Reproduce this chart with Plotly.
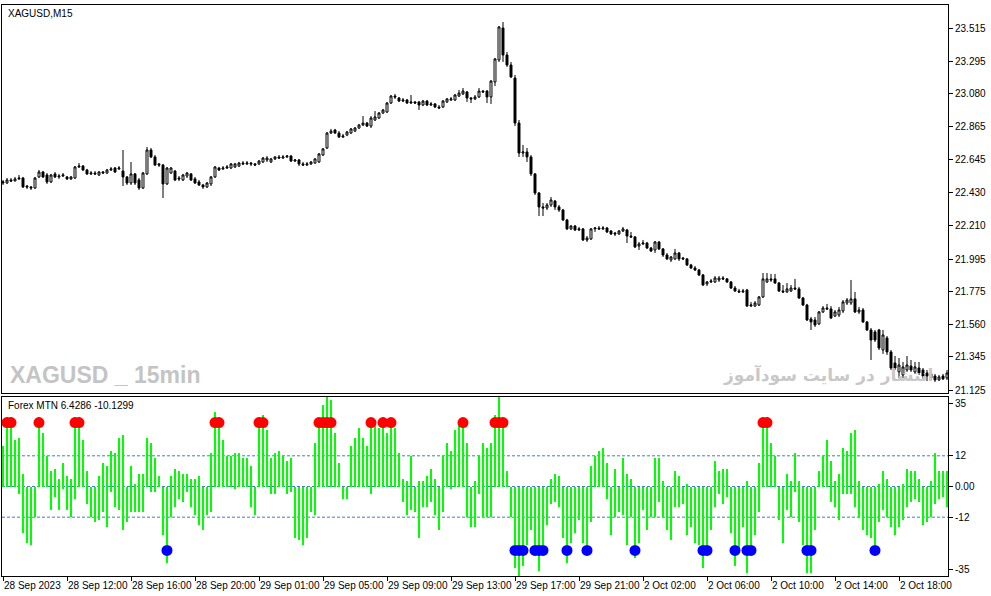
import plotly.graph_objects as go

# XAGUSD M15 candles (one per 15 minutes)
opens = [
    22.492, 22.492, 22.512, 22.505, 22.519, 22.525, 22.472, 22.466, 22.459, 22.532,
    22.565, 22.545, 22.499, 22.552, 22.532, 22.538, 22.532, 22.519, 22.525, 22.598,
    22.604, 22.578, 22.552, 22.558, 22.545, 22.565, 22.558, 22.578, 22.591, 22.585,
    22.571, 22.532, 22.492, 22.552, 22.512, 22.459, 22.552, 22.710, 22.664, 22.618,
    22.611, 22.486, 22.558, 22.571, 22.525, 22.512, 22.538, 22.552, 22.519, 22.499,
    22.479, 22.466, 22.486, 22.532, 22.591, 22.585, 22.591, 22.591, 22.598, 22.604,
    22.624, 22.618, 22.624, 22.618, 22.618, 22.631, 22.644, 22.631, 22.651, 22.664,
    22.657, 22.664, 22.670, 22.637, 22.644, 22.618, 22.611, 22.618, 22.624, 22.631,
    22.677, 22.723, 22.822, 22.842, 22.822, 22.796, 22.809, 22.822, 22.835, 22.855,
    22.875, 22.888, 22.868, 22.908, 22.921, 22.954, 22.961, 23.020, 23.066, 23.053,
    23.033, 23.040, 23.020, 23.027, 23.027, 23.007, 23.033, 23.007, 23.014, 22.994,
    22.994, 23.027, 23.040, 23.040, 23.066, 23.080, 23.093, 23.053, 23.047, 23.060,
    23.099, 23.099, 23.060, 23.159, 23.304, 23.515, 23.337, 23.271, 23.185, 22.888,
    22.690, 22.697, 22.664, 22.552, 22.426, 22.334, 22.327, 22.347, 22.373, 22.334,
    22.314, 22.248, 22.189, 22.208, 22.182, 22.189, 22.116, 22.123, 22.189, 22.195,
    22.189, 22.195, 22.175, 22.162, 22.156, 22.175, 22.182, 22.142, 22.136, 22.076,
    22.090, 22.096, 22.063, 22.050, 22.103, 22.057, 22.017, 21.984, 21.991, 22.030,
    21.997, 21.991, 21.951, 21.931, 21.918, 21.885, 21.826, 21.839, 21.839, 21.852,
    21.865, 21.859, 21.839, 21.799, 21.779, 21.773, 21.786, 21.680, 21.680, 21.687,
    21.740, 21.839, 21.859, 21.859, 21.832, 21.779, 21.773, 21.779, 21.799, 21.793,
    21.733, 21.687, 21.595, 21.588, 21.562, 21.641, 21.667, 21.661, 21.614, 21.621,
    21.647, 21.700, 21.700, 21.727, 21.641, 21.654, 21.575, 21.522, 21.509, 21.522,
    21.390, 21.469, 21.377, 21.304, 21.245, 21.225, 21.258, 21.284, 21.245, 21.271,
    21.258, 21.238, 21.232, 21.218, 21.192, 21.218, 21.205,
]
highs = [
    22.512, 22.525, 22.525, 22.532, 22.545, 22.532, 22.479, 22.472, 22.532, 22.578,
    22.571, 22.558, 22.552, 22.565, 22.552, 22.558, 22.538, 22.538, 22.604, 22.624,
    22.611, 22.585, 22.571, 22.571, 22.571, 22.571, 22.585, 22.598, 22.598, 22.604,
    22.710, 22.538, 22.631, 22.558, 22.525, 22.565, 22.730, 22.723, 22.677, 22.624,
    22.618, 22.598, 22.598, 22.578, 22.538, 22.552, 22.565, 22.558, 22.532, 22.512,
    22.486, 22.499, 22.538, 22.604, 22.598, 22.604, 22.611, 22.624, 22.624, 22.631,
    22.637, 22.637, 22.631, 22.624, 22.644, 22.664, 22.670, 22.657, 22.670, 22.677,
    22.677, 22.677, 22.677, 22.651, 22.651, 22.631, 22.631, 22.637, 22.657, 22.690,
    22.723, 22.829, 22.849, 22.849, 22.835, 22.816, 22.835, 22.855, 22.862, 22.882,
    22.934, 22.895, 22.934, 22.967, 22.961, 22.981, 23.027, 23.073, 23.080, 23.060,
    23.053, 23.047, 23.073, 23.033, 23.033, 23.040, 23.040, 23.027, 23.020, 23.007,
    23.040, 23.053, 23.060, 23.080, 23.106, 23.119, 23.099, 23.060, 23.073, 23.119,
    23.106, 23.106, 23.172, 23.317, 23.528, 23.555, 23.357, 23.291, 23.205, 22.908,
    22.743, 22.723, 22.677, 22.558, 22.433, 22.360, 22.360, 22.400, 22.380, 22.347,
    22.321, 22.255, 22.215, 22.215, 22.202, 22.195, 22.142, 22.195, 22.202, 22.208,
    22.208, 22.202, 22.182, 22.169, 22.182, 22.202, 22.189, 22.169, 22.142, 22.103,
    22.116, 22.103, 22.070, 22.109, 22.109, 22.063, 22.030, 22.010, 22.057, 22.037,
    22.004, 21.997, 21.958, 21.944, 21.925, 21.892, 21.845, 21.859, 21.878, 21.878,
    21.878, 21.865, 21.845, 21.812, 21.793, 21.793, 21.793, 21.707, 21.713, 21.746,
    21.898, 21.898, 21.892, 21.892, 21.839, 21.819, 21.832, 21.819, 21.859, 21.806,
    21.740, 21.694, 21.608, 21.608, 21.647, 21.680, 21.694, 21.680, 21.654, 21.674,
    21.720, 21.733, 21.852, 21.773, 21.674, 21.667, 21.581, 21.535, 21.522, 21.529,
    21.522, 21.482, 21.390, 21.350, 21.337, 21.311, 21.350, 21.324, 21.311, 21.311,
    21.271, 21.258, 21.245, 21.232, 21.225, 21.232, 21.258,
]
lows = [
    22.479, 22.486, 22.499, 22.505, 22.512, 22.459, 22.453, 22.446, 22.453, 22.525,
    22.525, 22.486, 22.492, 22.525, 22.519, 22.532, 22.512, 22.512, 22.519, 22.591,
    22.571, 22.545, 22.545, 22.545, 22.538, 22.552, 22.552, 22.571, 22.558, 22.578,
    22.472, 22.479, 22.479, 22.479, 22.446, 22.453, 22.545, 22.657, 22.604, 22.598,
    22.393, 22.479, 22.552, 22.505, 22.505, 22.505, 22.525, 22.505, 22.486, 22.472,
    22.453, 22.459, 22.472, 22.525, 22.571, 22.578, 22.585, 22.585, 22.591, 22.598,
    22.611, 22.611, 22.604, 22.604, 22.611, 22.624, 22.631, 22.624, 22.644, 22.651,
    22.651, 22.657, 22.631, 22.631, 22.604, 22.604, 22.604, 22.611, 22.618, 22.624,
    22.670, 22.717, 22.816, 22.816, 22.789, 22.789, 22.802, 22.816, 22.829, 22.849,
    22.868, 22.862, 22.855, 22.901, 22.915, 22.948, 22.954, 23.014, 23.047, 23.027,
    23.027, 23.014, 23.014, 23.014, 22.974, 23.000, 23.000, 23.000, 22.987, 22.981,
    22.987, 23.020, 23.033, 23.033, 23.060, 23.073, 23.027, 23.020, 23.040, 23.053,
    23.086, 23.020, 23.014, 23.132, 23.291, 23.291, 23.258, 23.185, 22.868, 22.664,
    22.664, 22.631, 22.538, 22.413, 22.274, 22.274, 22.314, 22.334, 22.314, 22.301,
    22.241, 22.182, 22.182, 22.175, 22.175, 22.109, 22.103, 22.116, 22.169, 22.182,
    22.182, 22.162, 22.149, 22.142, 22.149, 22.169, 22.096, 22.129, 22.063, 22.050,
    22.083, 22.057, 22.037, 22.030, 22.050, 22.004, 21.984, 21.971, 21.984, 21.977,
    21.984, 21.944, 21.925, 21.911, 21.878, 21.812, 21.812, 21.832, 21.832, 21.839,
    21.852, 21.832, 21.793, 21.773, 21.766, 21.766, 21.674, 21.674, 21.674, 21.680,
    21.733, 21.832, 21.839, 21.826, 21.773, 21.766, 21.766, 21.773, 21.786, 21.727,
    21.680, 21.581, 21.522, 21.542, 21.555, 21.634, 21.654, 21.595, 21.608, 21.608,
    21.634, 21.687, 21.687, 21.634, 21.628, 21.568, 21.515, 21.324, 21.443, 21.390,
    21.364, 21.357, 21.258, 21.258, 21.205, 21.205, 21.245, 21.245, 21.232, 21.225,
    21.192, 21.185, 21.192, 21.179, 21.185, 21.192, 21.192,
]
closes = [
    22.499, 22.512, 22.505, 22.519, 22.525, 22.466, 22.466, 22.459, 22.525, 22.565,
    22.532, 22.499, 22.545, 22.532, 22.538, 22.545, 22.519, 22.532, 22.598, 22.604,
    22.578, 22.552, 22.558, 22.552, 22.565, 22.558, 22.578, 22.585, 22.565, 22.591,
    22.532, 22.492, 22.552, 22.492, 22.459, 22.558, 22.710, 22.664, 22.611, 22.611,
    22.486, 22.591, 22.591, 22.512, 22.519, 22.545, 22.558, 22.512, 22.492, 22.479,
    22.466, 22.492, 22.532, 22.598, 22.578, 22.591, 22.598, 22.618, 22.618, 22.624,
    22.618, 22.624, 22.618, 22.611, 22.637, 22.657, 22.657, 22.651, 22.664, 22.657,
    22.664, 22.670, 22.637, 22.644, 22.618, 22.611, 22.618, 22.631, 22.651, 22.684,
    22.717, 22.822, 22.835, 22.822, 22.796, 22.802, 22.829, 22.849, 22.855, 22.875,
    22.888, 22.868, 22.921, 22.928, 22.954, 22.974, 23.020, 23.066, 23.060, 23.033,
    23.040, 23.020, 23.027, 23.020, 23.007, 23.033, 23.007, 23.014, 22.994, 22.987,
    23.033, 23.047, 23.047, 23.073, 23.086, 23.099, 23.053, 23.047, 23.060, 23.099,
    23.093, 23.060, 23.165, 23.311, 23.522, 23.337, 23.271, 23.192, 22.888, 22.690,
    22.697, 22.664, 22.552, 22.426, 22.334, 22.327, 22.347, 22.380, 22.334, 22.314,
    22.248, 22.189, 22.208, 22.182, 22.189, 22.116, 22.129, 22.189, 22.195, 22.189,
    22.195, 22.169, 22.156, 22.156, 22.175, 22.189, 22.142, 22.136, 22.070, 22.090,
    22.096, 22.063, 22.043, 22.103, 22.057, 22.017, 21.991, 22.004, 22.030, 21.991,
    21.991, 21.951, 21.931, 21.918, 21.885, 21.819, 21.839, 21.845, 21.865, 21.865,
    21.859, 21.839, 21.799, 21.779, 21.773, 21.779, 21.680, 21.687, 21.700, 21.740,
    21.859, 21.859, 21.852, 21.832, 21.779, 21.773, 21.793, 21.799, 21.793, 21.733,
    21.687, 21.588, 21.575, 21.555, 21.641, 21.667, 21.661, 21.601, 21.641, 21.654,
    21.707, 21.720, 21.727, 21.641, 21.654, 21.575, 21.522, 21.456, 21.456, 21.403,
    21.489, 21.377, 21.271, 21.271, 21.291, 21.278, 21.291, 21.258, 21.278, 21.238,
    21.218, 21.218, 21.205, 21.192, 21.212, 21.199, 21.238,
]

# Forex MTN histogram: each bar is drawn between a low and a high buffer
mtn_low = [
    0, 0, 0, 0, -3, -18, -22, -23, -12, 0,
    0, 0, -9, -4, -9, -1, -9, -12, -5, 0,
    0, -7, -12, -14, -13, -10, -16, -2, -8, -9,
    -17, -14, -10, -10, -10, -10, 0, -2, -2, 0,
    -19, -30, -12, -8, -5, -6, -2, -8, -11, -15,
    -17, -11, -10, 0, 0, 0, 0, 0, -1, 0,
    0, 0, -8, -11, 0, 0, 0, -3, -3, 0,
    0, -3, -2, -20, -21, -23, -20, -10, -11, 0,
    0, 0, 0, 0, 0, -5, -5, 0, 0, 0,
    0, 0, -3, 0, 0, 0, 0, 0, 0, 0,
    -6, -11, -9, -10, -20, -8, -8, -6, -11, -17,
    -10, 0, -1, 0, 0, 0, -12, -16, -16, -3,
    -12, -12, -12, 0, 0, 0, 0, -12, -32, -35,
    -31, -23, -17, -25.5, -33, -26, -15, -7, -6, -8,
    -20, -30, -22, -18, -13, -22, -26, -14, 0, 0,
    0, -5, -19, -12, -10, -11, -23, -12, -28, -22,
    -9, -17, -12, -12, -6, -12, -17, -21, -8, -8,
    -7, -19, -16, -22, -23, -32, -26, -17, -8, -3,
    -7, -4, -18, -31, -24, -16, -34, -25.5, -19, -10,
    0, 0, 0, 0, -13, -22, -9, -12, -2, -14,
    -23, -34, -34, -17, 0, 0, 0, -6, -8, -13,
    -3, -3, -3, -8, -12, -17, -19, -20, -26, -14,
    -9, -12, -16, -19, -16, -13, -8, -6, -5, -6,
    -15, -14, -12, -7, -5, -4, -8,
]
mtn_high = [
    16, 27, 27, 18, 19, 5, 0, 0, 0, 27,
    21, 12, 6, 7, 3, 9, 4, 3, 27, 27,
    18, 6, 0, 0, 4, 9, 8, 14, 13, 19,
    20, 0, 8, 1, 5, 5, 19, 17, 11, 4,
    0, 0, 4, 7, 6, 5, 5, 3, 3, 4,
    0, 0, 13, 29, 27, 18, 12, 12, 13, 13,
    11, 11, 8, 0, 27, 28, 22, 11, 13, 14,
    12, 10, 11, 0, 0, 0, 0, 0, 17, 26,
    32, 35, 34, 21, 9, 0, 0, 16, 19, 23,
    19, 16, 26, 24, 23, 27, 21, 26, 23, 13,
    3, 2, 12, 0, 2, 2, 4, 7, 3, 0,
    12, 17, 14, 22, 24, 26, 17, 0, 2, 12,
    17, 15, 17, 28, 35, 26, 6, 0, 0, 0,
    0, 0, 0, 0, 0, 0, 0, 3, 5, 4,
    0, 0, 0, 0, 0, 0, 0, 8, 12, 14,
    15, 9, 0, 7, 0, 11, 5, 3, 0, 0,
    0, 0, 0, 11, 11, 2, 0, 0, 6, 4,
    0, 1, 0, 0, 0, 0, 0, 0, 10, 6,
    7, 7, 0, 0, 0, 0, 2, 0, 0, 9,
    27, 27, 17, 12, 0, 0, 5, 2, 13, 2,
    0, 0, 0, 0, 6, 12, 18, 10, 2, 5,
    15, 14, 21, 22, 2, 0, 0, 0, 0, 1,
    6, 3, 0, 0, 0, 1, 7, 6, 6, 3,
    0, 0, 2, 13, 6, 6, 6,
]
signal_level = 25          # where the red / blue signal dots sit
mtn_levels = [12, 0, -12]  # dotted levels of the indicator window

# axis ticks
price_ticks = [23.515, 23.295, 23.080, 22.865, 22.645, 22.430,
               22.210, 21.990, 21.775, 21.560, 21.345, 21.125]
price_labels = ['23.515', '23.295', '23.080', '22.865', '22.645', '22.430',
                '22.210', '21.995', '21.775', '21.560', '21.345', '21.125']
mtn_ticks = [32.3, 12, 0, -12, -32.3]
mtn_labels = ['35', '12', '0.00', '-12', '-35']
time_ticks = [0, 16, 32, 48, 64, 80, 96, 112, 128, 144, 160, 176, 192, 208, 224]
time_labels = ['28 Sep 2023', '28 Sep 12:00', '28 Sep 16:00', '28 Sep 20:00',
               '29 Sep 01:00', '29 Sep 05:00', '29 Sep 09:00', '29 Sep 13:00',
               '29 Sep 17:00', '29 Sep 21:00', '2 Oct 02:00', '2 Oct 06:00',
               '2 Oct 10:00', '2 Oct 14:00', '2 Oct 18:00']

bars = list(range(len(closes)))
mtn_size = [h - l for l, h in zip(mtn_low, mtn_high)]
red_x = [i for i, h in zip(bars, mtn_high) if h >= signal_level]
blue_x = [i for i, l in zip(bars, mtn_low) if l <= -signal_level]

fig = go.Figure()

# candles: white body = bullish, black body = bearish
fig.add_trace(go.Candlestick(
    x=bars, open=opens, high=highs, low=lows, close=closes,
    increasing=dict(line=dict(color='black', width=1), fillcolor='white'),
    decreasing=dict(line=dict(color='black', width=1), fillcolor='black'),
    whiskerwidth=0, showlegend=False, hoverinfo='skip',
    xaxis='x', yaxis='y'))

# indicator histogram
fig.add_trace(go.Bar(
    x=bars, y=mtn_size, base=mtn_low, width=0.65,
    marker=dict(color='#00ff00', line=dict(width=0)),
    showlegend=False, xaxis='x2', yaxis='y2'))

fig.add_trace(go.Scatter(
    x=red_x, y=[signal_level] * len(red_x), mode='markers',
    marker=dict(color='#ff0000', size=11), showlegend=False,
    xaxis='x2', yaxis='y2'))
fig.add_trace(go.Scatter(
    x=blue_x, y=[-signal_level] * len(blue_x), mode='markers',
    marker=dict(color='#0000ff', size=11), showlegend=False,
    xaxis='x2', yaxis='y2'))

# level lines sit behind the histogram, as in the terminal
for lv in mtn_levels:
    fig.add_shape(type='line', xref='x2 domain', yref='y2', x0=0, x1=1, y0=lv, y1=lv,
                  line=dict(color='#3f7fc0', width=1, dash='3px,2px'), layer='below')

tick_font = dict(family='Liberation Sans, Arial, sans-serif', size=10, color='black')
axis_style = dict(showgrid=False, zeroline=False, showline=True, mirror=True,
                  linecolor='black', linewidth=1, automargin=False)

fig.update_layout(
    width=991, height=596,
    margin=dict(l=2, r=43, t=5, b=20),
    paper_bgcolor='white', plot_bgcolor='white',
    bargap=0, showlegend=False,
    xaxis=dict(domain=[0, 1], anchor='y', range=[-0.25, 236.25],
               showticklabels=False, ticks='', rangeslider=dict(visible=False),
               **axis_style),
    yaxis=dict(domain=[0.3205, 1], anchor='x', side='right',
               range=[21.106, 23.667], tickvals=price_ticks, ticktext=price_labels,
               ticks='outside', ticklen=4, tickcolor='black', tickfont=tick_font,
               **axis_style),
    xaxis2=dict(domain=[0, 1], anchor='y2', range=[-0.25, 236.25],
                tickvals=time_ticks, ticktext=time_labels, ticks='outside',
                ticklen=4, tickcolor='black', tickfont=tick_font, tickangle=0,
                ticklabelposition='outside right', **axis_style),
    yaxis2=dict(domain=[0, 0.3135], anchor='x2', side='right', range=[-35, 35],
                tickvals=mtn_ticks, ticktext=mtn_labels, ticks='outside',
                ticklen=4, tickcolor='black', tickfont=tick_font, **axis_style),
)

# window captions and watermarks
fig.add_annotation(text='XAGUSD,M15', xref='paper', yref='paper', x=0.004, y=1,
                   xanchor='left', yanchor='top', yshift=-1, showarrow=False,
                   font=dict(family='Liberation Sans, Arial, sans-serif', size=10, color='black'))
fig.add_annotation(text='Forex MTN 6.4286 -10.1299', xref='paper', yref='paper',
                   x=0.004, y=0.3135, xanchor='left', yanchor='top', yshift=-1,
                   showarrow=False,
                   font=dict(family='Liberation Sans, Arial, sans-serif', size=10, color='black'))
fig.add_annotation(text='<b>XAGUSD _ 15min</b>', xref='paper', yref='paper',
                   x=0.006, y=0.352, xanchor='left', yanchor='middle', showarrow=False,
                   font=dict(family='Liberation Sans Narrow, Arial Narrow, sans-serif',
                             size=23, color='#c4c4c4'))
fig.add_annotation(text='<b>انتشار در سایت سودآموز</b>', xref='paper', yref='paper',
                   x=0.986, y=0.352, xanchor='right', yanchor='middle', showarrow=False,
                   font=dict(family='DejaVu Sans, sans-serif', size=17, color='#c8c8c8'))

# the page body has a default 8px margin; drop it so the figure fills the window
fig.write_html("out.html", config={'displayModeBar': False},
               post_script="document.body.style.margin='0';")
